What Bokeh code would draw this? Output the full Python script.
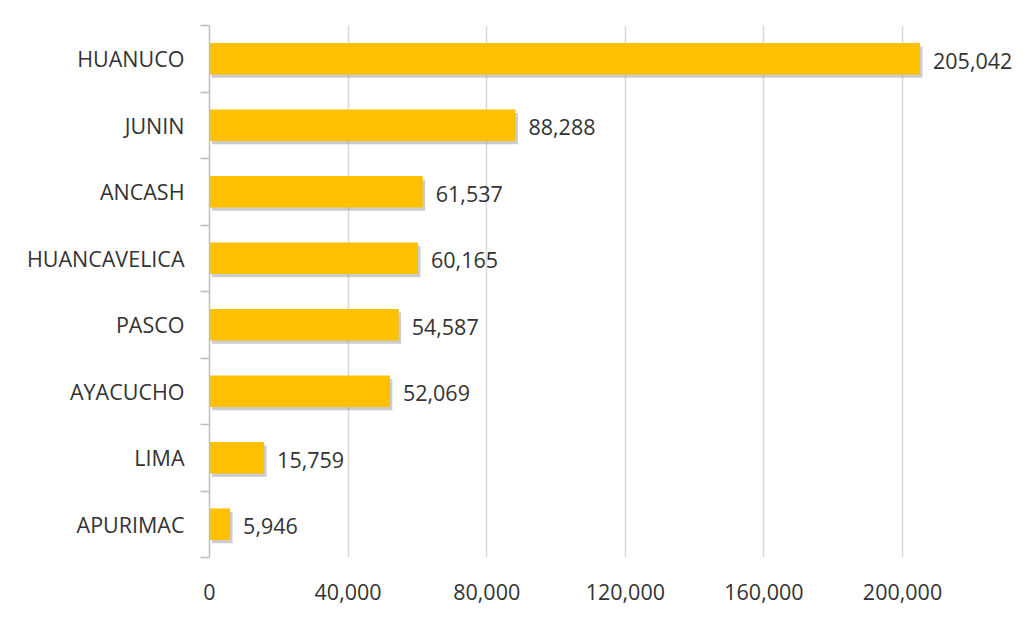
from bokeh.plotting import figure
from bokeh.models import ColumnDataSource, FixedTicker, NumeralTickFormatter, Range1d
from bokeh.core.properties import value
from bokeh.embed import file_html
from bokeh.resources import INLINE

# data (top to bottom as shown)
regions = ["HUANUCO", "JUNIN", "ANCASH", "HUANCAVELICA", "PASCO", "AYACUCHO", "LIMA", "APURIMAC"]
values = [205042, 88288, 61537, 60165, 54587, 52069, 15759, 5946]
x_ticks = [0, 40000, 80000, 120000, 160000, 200000]

n = len(regions)
pos = [n - i - 0.5 for i in range(n)]
labels = [f"{v:,}" for v in values]

FONT = "Open Sans"
TXT = "#333333"

src = ColumnDataSource(dict(
    y=pos, v=values, lab=labels,
    sy=[p_ - 0.05 for p_ in pos],
    sl=[700] * n, sr=[v + 700 for v in values],
))

p = figure(width=1015, height=628, output_backend="svg", toolbar_location=None,
           x_range=Range1d(0, 232600), y_range=Range1d(0, n),
           min_border_left=209, min_border_top=25, min_border_bottom=71, min_border_right=0)
p.outline_line_color = None
p.background_fill_color = "white"
p.border_fill_color = "white"

# shadow
p.hbar(y="sy", left="sl", right="sr", height=0.47, source=src,
       fill_color="#7f7f7f", fill_alpha=0.4, line_color=None)
p.hbar(y="y", left=0, right="v", height=0.47, source=src,
       fill_color="#FFC000", line_color=None)
p.text(x="v", y="y", text="lab", source=src, x_offset=13, y_offset=2,
       text_align="left", text_baseline="middle",
       text_font=value(FONT), text_font_size="21.5px", text_color=TXT)

# x axis
p.xaxis.ticker = FixedTicker(ticks=x_ticks)
p.xaxis.formatter = NumeralTickFormatter(format="0,0")
p.xaxis.axis_line_color = None
p.xaxis.major_tick_line_color = None
p.xaxis.minor_tick_line_color = None
p.xaxis.major_tick_out = 0
p.xaxis.major_label_standoff = 26
p.xaxis.major_label_text_font = FONT
p.xaxis.major_label_text_font_size = "21.5px"
p.xaxis.major_label_text_color = TXT

# y axis
p.yaxis.ticker = FixedTicker(ticks=pos, minor_ticks=list(range(n + 1)))
p.yaxis.major_label_overrides = {pp: r for pp, r in zip(pos, regions)}
p.yaxis.axis_line_color = "#bfbfbf"
p.yaxis.axis_line_width = 1.5
p.yaxis.major_tick_line_color = None
p.yaxis.major_tick_out = 0
p.yaxis.major_tick_in = 0
p.yaxis.minor_tick_line_color = "#bfbfbf"
p.yaxis.minor_tick_line_width = 1.5
p.yaxis.minor_tick_out = 9
p.yaxis.minor_tick_in = 0
p.yaxis.major_label_standoff = 16
p.yaxis.major_label_text_font = FONT
p.yaxis.major_label_text_font_size = "21.5px"
p.yaxis.major_label_text_color = TXT

p.xgrid.ticker = FixedTicker(ticks=x_ticks)
p.xgrid.grid_line_color = "#d9d9d9"
p.xgrid.grid_line_width = 1.5
p.ygrid.grid_line_color = None

open("out.html", "w").write(file_html(p, INLINE))
